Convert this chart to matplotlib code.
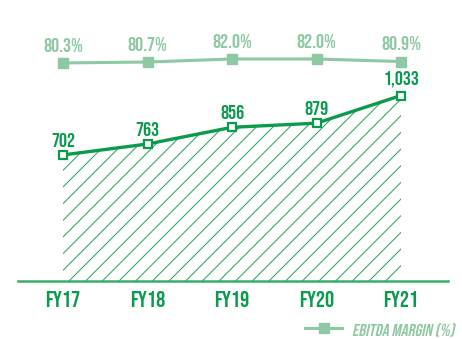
import matplotlib
matplotlib.use("Agg")
import matplotlib.pyplot as plt
from matplotlib.lines import Line2D
from matplotlib.textpath import TextPath
from matplotlib.patches import PathPatch
from matplotlib.font_manager import FontProperties
from matplotlib.transforms import Affine2D, IdentityTransform

years = ["FY17", "FY18", "FY19", "FY20", "FY21"]
ebitda = [702, 763, 856, 879, 1033]
ebitda_labels = ["702", "763", "856", "879", "1,033"]
margin = [80.3, 80.7, 82.0, 82.0, 80.9]

dark_green = "#0b9a4e"
light_green = "#8fc9a4"
hatch_green = "#2fa562"

fonts = ["Bebas Neue", "Oswald", "DejaVu Sans"]
plt.rcParams["font.family"] = fonts
plt.rcParams["hatch.linewidth"] = 0.75

W, H, DPI = 4.62, 3.39, 100
fig = plt.figure(figsize=(W, H), dpi=DPI)
ax = fig.add_axes([18 / 462, 1 - 281 / 339, 430 / 462, 281 / 339])
x = list(range(len(years)))

# hatched area under EBITDA
ax.fill_between(x, 0, ebitda, facecolor="none", edgecolor=hatch_green,
                hatch="//", linewidth=0)
ax.plot(x, ebitda, color=dark_green, lw=2.4, marker="s", ms=6,
        mfc="white", mec=dark_green, mew=1.6, zorder=3)
for xi, v, lab in zip(x, ebitda, ebitda_labels):
    ax.annotate(lab, (xi, v), xytext=(0, 6), textcoords="offset points",
                ha="center", va="bottom", color=dark_green, fontsize=14.5)

ax.set_xlim(-0.533, 4.556)
ax.set_ylim(0, 1565)
ax.set_xticks(x)
ax.set_xticklabels(years, fontsize=16.5, color=dark_green)
ax.tick_params(axis="x", length=0, pad=7)
ax.set_yticks([])
for s in ["top", "right", "left"]:
    ax.spines[s].set_visible(False)
ax.spines["bottom"].set_color("#3aad6c")
ax.spines["bottom"].set_linewidth(1.8)

# margin line on a second scale
ax2 = ax.twinx()
ax2.plot(x, margin, color=light_green, lw=2.2, marker="s", ms=7,
         mfc=light_green, mec=light_green)
for xi, m in zip(x, margin):
    ax2.annotate(f"{m:.1f}%", (xi, m), xytext=(0, 8), textcoords="offset points",
                 ha="center", va="bottom", color=light_green, fontsize=14.5)
ax2.set_ylim(-12.5, 107.1)
ax2.axis("off")

# legend: line with marker and a slanted label
ly = 1 - 328 / 339
fig.add_artist(Line2D([305 / 462, 342 / 462], [ly, ly], color=light_green,
                      lw=2.2, transform=fig.transFigure))
fig.add_artist(Line2D([323.5 / 462], [ly], color=light_green, marker="s",
                      ms=7, lw=0, transform=fig.transFigure))
tp = TextPath((0, 0), "EBITDA MARGIN (%)", size=12.4,
              prop=FontProperties(family=fonts))
tr = Affine2D().scale(DPI / 72).skew_deg(12, 0).translate(352, H * DPI - 336)
fig.add_artist(PathPatch(tr.transform_path(tp), color=light_green, lw=0,
                         transform=IdentityTransform()))

fig.savefig("out.png", dpi=DPI)
